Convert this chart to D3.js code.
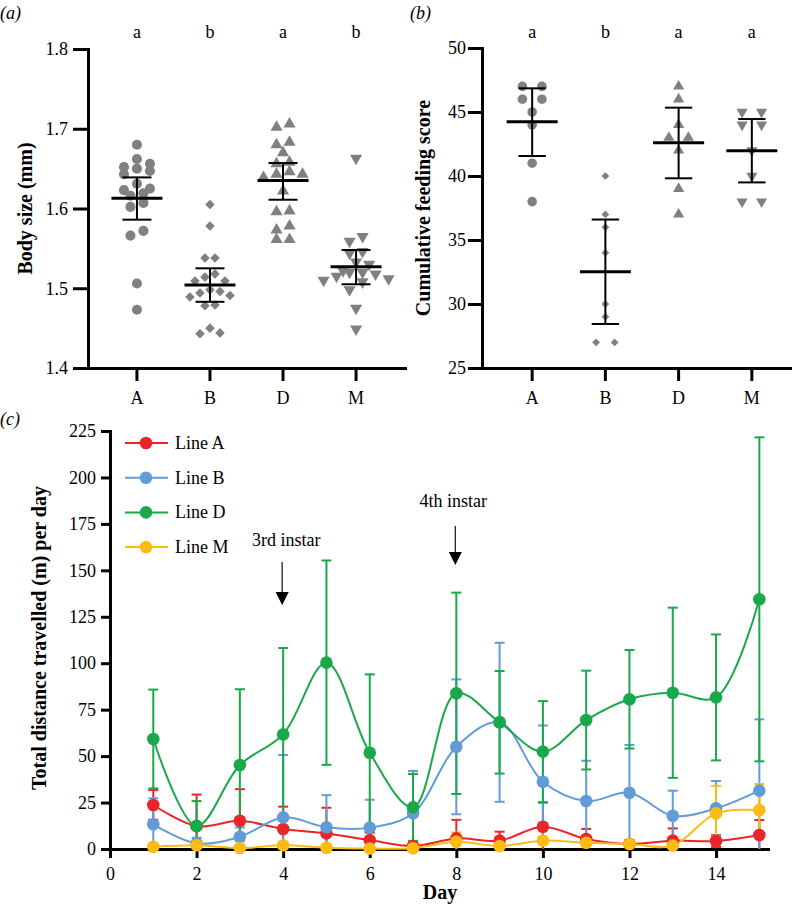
<!DOCTYPE html>
<html><head><meta charset="utf-8">
<script src="https://cdn.jsdelivr.net/npm/d3@7"></script>
<style>
body{margin:0;background:#fff}
svg{display:block;font-family:"Liberation Serif","Times New Roman",serif}
</style>
</head><body><svg id="chart" width="792" height="906"></svg>
<script>
// ---------- DATA ----------
const groups = ["A", "B", "D", "M"];

// Panel (a): body size (mm)
const sizeA = [1.680,1.662,1.656,1.652,1.650,1.647,1.643,1.631,1.625,1.623,1.619,1.616,1.607,1.602,1.572,1.566,1.506,1.473];
const sizeB = [1.605,1.578,1.538,1.538,1.518,1.514,1.509,1.509,1.498,1.496,1.494,1.491,1.489,1.479,1.478,1.450,1.444,1.443];
const sizeD = [1.706,1.702,1.683,1.680,1.670,1.658,1.656,1.646,1.643,1.643,1.639,1.622,1.597,1.596,1.578,1.573,1.561,1.561];
const sizeM = [1.663,1.565,1.559,1.546,1.544,1.533,1.530,1.522,1.520,1.520,1.518,1.515,1.512,1.510,1.508,1.498,1.475,1.449];
const sizeMean = [1.613, 1.504, 1.635, 1.527];
const sizeLo   = [1.586, 1.483, 1.611, 1.505];
const sizeHi   = [1.639, 1.525, 1.657, 1.548];
const sizeLetters = ["a", "b", "a", "b"];
const sizeTicks = [1.4, 1.5, 1.6, 1.7, 1.8];

// Panel (b): cumulative feeding score
const feedA = [47,47,46,46,45,44,41,38];
const feedB = [40,37,36,34,30,29,27,27];
const feedD = [47,46,44,43,43,42,39,37];
const feedM = [45,45,44,44,42,40,38,38];
const feedMean = [44.24, 32.52, 42.6, 41.98];
const feedLo   = [41.56, 28.44, 39.82, 39.5];
const feedHi   = [46.85, 36.6, 45.34, 44.45];
const feedLetters = ["a", "b", "a", "a"];
const feedTicks = [25, 30, 35, 40, 45, 50];

// Panel (c): total distance travelled (m) per day
const days = [1,2,3,4,5,6,7,8,9,10,11,12,13,14,15];
const distA = [23.7,12.3,15.2,10.8,8.4,4.8,1.6,5.7,4.5,12.0,5.4,2.7,4.5,4.3,7.5];
const errA  = [8,17,17,12,13.8,4,1,10,4.8,13,5.4,2,6.6,3.2,8.1];
const distB = [13.3,3.0,6.6,17.0,11.7,11.5,19.2,55.0,68.2,36.2,25.8,30.3,17.9,21.9,31.4];
const errB  = [14,3,5,33.6,17.3,15,22.8,36.3,42.8,30.3,21.7,25.7,13.5,14.7,38.4];
const distD = [59.2,12.4,45.2,61.7,100.3,51.8,22.4,83.8,68.2,52.4,69.4,80.6,84.1,81.6,134.4];
const errD  = [26.6,13.4,40.8,46.5,55,42.2,18,54.2,27.6,27.2,26.6,26.5,45.8,33.9,87.2];
const distM = [1.2,2.0,0.5,2.0,0.7,0.3,0.4,3.9,1.6,4.5,3.4,2.7,1.8,19.2,21.0];
const errM  = [1,1,0.5,1,0.5,0.3,0.3,5,1,2,2,1,1,14.8,14];
const seriesNames = ["Line A", "Line B", "Line D", "Line M"];
const seriesColors = ["#e8262a", "#629cd8", "#19a84a", "#fdbb14"];
const distTicksY = [0,25,50,75,100,125,150,175,200,225];
const distTicksX = [0,2,4,6,8,10,12,14];
const instars = [{day: 4, label: "3rd instar"}, {day: 8, label: "4th instar"}];

// ---------- HELPERS ----------
const svg = d3.select("#chart");
const GRAY = "#808080";
const FONT = 18;

function styleAxis(g, tickW) {
  g.select(".domain").attr("stroke", "#000").attr("stroke-width", 3).attr("stroke-linecap", "square");
  g.selectAll(".tick line").attr("stroke", "#000").attr("stroke-width", tickW);
  g.selectAll(".tick text").attr("font-size", FONT).attr("fill", "#000")
    .attr("font-family", '"Liberation Serif","Times New Roman",serif');
}

// Row-binned symmetric scatter layout (Prism-like)
function swarm(vals, y, cx, w, rowH) {
  const pts = vals.map(v => ({v, py: y(v)})).sort((a, b) => a.py - b.py);
  const rows = []; let cur = null;
  pts.forEach(p => {
    if (!cur || p.py - cur[0].py > rowH) { cur = [p]; rows.push(cur); } else cur.push(p);
  });
  rows.forEach(row => {
    const n = row.length;
    const offs = d3.range(n).map(i => (i - (n - 1) / 2) * w)
      .sort((a, b) => Math.abs(a) - Math.abs(b) || b - a);
    row.forEach((p, i) => { p.px = cx + offs[i]; });
  });
  return pts;
}

function shapePath(kind, size) {
  if (kind === "circle") return d3.symbol(d3.symbolCircle, size)();
  if (kind === "diamond") return d3.symbol(d3.symbolSquare, size)();
  return d3.symbol(d3.symbolTriangle, size)();
}
function shapeRot(kind) {
  if (kind === "diamond") return 45;
  if (kind === "down") return 180;
  return 0;
}

function dotPanel(opt) {
  const g = svg.append("g");
  const x = d3.scaleBand().domain(groups).range(opt.xRange).paddingInner(0).paddingOuter(opt.padOuter);
  const y = d3.scaleLinear().domain(opt.yDomain).range(opt.yRange);
  const xAx = g.append("g").attr("transform", `translate(0,${opt.yRange[0]})`)
    .call(d3.axisBottom(x).tickSize(13).tickSizeOuter(0).tickPadding(10));
  styleAxis(xAx, 3);
  const yAx = g.append("g").attr("transform", `translate(${opt.xRange[0]},0)`)
    .call(d3.axisLeft(y).tickValues(opt.ticks).tickFormat(opt.fmt).tickSize(opt.yTick).tickSizeOuter(0).tickPadding(opt.yPad));
  styleAxis(yAx, 3);

  const kinds = ["circle", "diamond", "up", "down"];
  groups.forEach((grp, i) => {
    const cx = x(grp) + x.bandwidth() / 2;
    const kind = kinds[i];
    const w = kind === "diamond" ? opt.wDiamond : opt.w;
    const pts = swarm(opt.data[i], y, cx, w, opt.rowH);
    g.append("g").selectAll("path").data(pts).join("path")
      .attr("d", shapePath(kind, opt.sizes[kind]))
      .attr("transform", p => `translate(${p.px},${p.py}) rotate(${shapeRot(kind)})`)
      .attr("fill", GRAY);
    // error bar
    const eb = g.append("g").attr("stroke", "#000").attr("stroke-width", 2).attr("fill", "none");
    eb.append("line").attr("x1", cx).attr("x2", cx).attr("y1", y(opt.lo[i])).attr("y2", y(opt.hi[i]));
    [opt.lo[i], opt.hi[i]].forEach(v => eb.append("line")
      .attr("x1", cx - opt.cap).attr("x2", cx + opt.cap).attr("y1", y(v)).attr("y2", y(v)));
    g.append("line").attr("x1", cx - 25.5).attr("x2", cx + 25.5)
      .attr("y1", y(opt.mean[i])).attr("y2", y(opt.mean[i]))
      .attr("stroke", "#000").attr("stroke-width", 3);
    g.append("text").attr("x", cx).attr("y", 38).attr("text-anchor", "middle")
      .attr("font-size", FONT).text(opt.letters[i]);
  });
  g.append("text")
    .attr("transform", `translate(${opt.titleX},${(opt.yRange[0] + opt.yRange[1]) / 2}) rotate(-90)`)
    .attr("text-anchor", "middle").attr("font-weight", "bold").attr("font-size", 20)
    .text(opt.title);
  g.append("text").attr("x", opt.labelX).attr("y", 19).attr("font-style", "italic")
    .attr("font-size", FONT).text(opt.label);
}

// ---------- PANEL (a) ----------
dotPanel({
  xRange: [88, 405], padOuter: 0.17, yDomain: [1.4, 1.8], yRange: [368, 49],
  ticks: sizeTicks, fmt: d3.format(".1f"), yTick: 15, yPad: 5,
  data: [sizeA, sizeB, sizeD, sizeM], mean: sizeMean, lo: sizeLo, hi: sizeHi,
  letters: sizeLetters, w: 13, wDiamond: 10, rowH: 9, cap: 14.5,
  sizes: {circle: 80, diamond: 46, up: 64, down: 64},
  title: "Body size (mm)", titleX: 32, label: "(a)", labelX: 0
});

// ---------- PANEL (b) ----------
dotPanel({
  xRange: [482, 802], padOuter: 0.185, yDomain: [25, 50], yRange: [368, 48],
  ticks: feedTicks, fmt: d3.format("d"), yTick: 14, yPad: 2,
  data: [feedA, feedB, feedD, feedM], mean: feedMean, lo: feedLo, hi: feedHi,
  letters: feedLetters, w: 19.5, wDiamond: 18.5, rowH: 9, cap: 13.7,
  sizes: {circle: 72, diamond: 30, up: 54, down: 54},
  title: "Cumulative feeding score", titleX: 430, label: "(b)", labelX: 410
});

// ---------- PANEL (c) ----------
(function () {
  const g = svg.append("g");
  const x = d3.scaleLinear().domain([0, 15.2]).range([110, 768]);
  const y = d3.scaleLinear().domain([0, 225]).range([849, 431]);
  const xAx = g.append("g").attr("transform", "translate(0,849)")
    .call(d3.axisBottom(x).tickValues(distTicksX).tickFormat(d3.format("d")).tickSize(9).tickSizeOuter(0).tickPadding(9));
  styleAxis(xAx, 3);
  const yAx = g.append("g").attr("transform", "translate(110,0)")
    .call(d3.axisLeft(y).tickValues(distTicksY).tickFormat(d3.format("d")).tickSize(9).tickSizeOuter(0).tickPadding(5));
  styleAxis(yAx, 3);

  const means = [distA, distB, distD, distM];
  const errs = [errA, errB, errD, errM];
  const line = d3.line().x((d, i) => x(days[i])).y(d => y(d)).curve(d3.curveCatmullRom.alpha(0.5));

  // error bars
  means.forEach((m, s) => {
    const eg = g.append("g").attr("stroke", seriesColors[s]).attr("stroke-width", 2).attr("fill", "none");
    m.forEach((v, i) => {
      const cx = x(days[i]);
      const hi = v + errs[s][i], lo = Math.max(0, v - errs[s][i]);
      eg.append("line").attr("x1", cx).attr("x2", cx).attr("y1", y(lo)).attr("y2", y(hi));
      eg.append("line").attr("x1", cx - 5).attr("x2", cx + 5).attr("y1", y(hi)).attr("y2", y(hi));
      if (v - errs[s][i] > 0)
        eg.append("line").attr("x1", cx - 5).attr("x2", cx + 5).attr("y1", y(lo)).attr("y2", y(lo));
    });
  });
  // lines and markers
  means.forEach((m, s) => {
    g.append("path").datum(m).attr("d", line).attr("fill", "none")
      .attr("stroke", seriesColors[s]).attr("stroke-width", 2);
  });
  means.forEach((m, s) => {
    g.append("g").selectAll("circle").data(m).join("circle")
      .attr("cx", (d, i) => x(days[i])).attr("cy", d => y(d)).attr("r", 6.3)
      .attr("fill", seriesColors[s]);
  });

  // legend
  const lg = g.append("g");
  seriesNames.forEach((name, s) => {
    const cy = 443 + s * 34.7;
    lg.append("line").attr("x1", 125).attr("x2", 168).attr("y1", cy).attr("y2", cy)
      .attr("stroke", seriesColors[s]).attr("stroke-width", 2);
    lg.append("circle").attr("cx", 146).attr("cy", cy).attr("r", 6.3).attr("fill", seriesColors[s]);
    lg.append("text").attr("x", 175).attr("y", cy + 6).attr("font-size", FONT).text(name);
  });

  // instar annotations
  const arrowTop = [562, 526], headTop = [592, 552];
  instars.forEach((a, k) => {
    const ax = x(a.day) - 1;
    g.append("text").attr("x", ax + (k === 0 ? 4 : -2)).attr("y", k === 0 ? 546 : 507)
      .attr("text-anchor", "middle").attr("font-size", FONT).text(a.label);
    g.append("line").attr("x1", ax).attr("x2", ax).attr("y1", arrowTop[k]).attr("y2", headTop[k] + 1)
      .attr("stroke", "#222").attr("stroke-width", 1.3);
    g.append("path").attr("d", `M${ax - 6.5},${headTop[k]}L${ax + 6.5},${headTop[k]}L${ax},${headTop[k] + 13}Z`)
      .attr("fill", "#000");
  });

  g.append("text").attr("transform", "translate(46,638) rotate(-90)")
    .attr("text-anchor", "middle").attr("font-weight", "bold").attr("font-size", 20)
    .text("Total distance travelled (m) per day");
  g.append("text").attr("x", 440).attr("y", 899).attr("text-anchor", "middle")
    .attr("font-weight", "bold").attr("font-size", 20).text("Day");
  g.append("text").attr("x", 0).attr("y", 425).attr("font-style", "italic")
    .attr("font-size", FONT).text("(c)");
})();
</script>
</body></html>
